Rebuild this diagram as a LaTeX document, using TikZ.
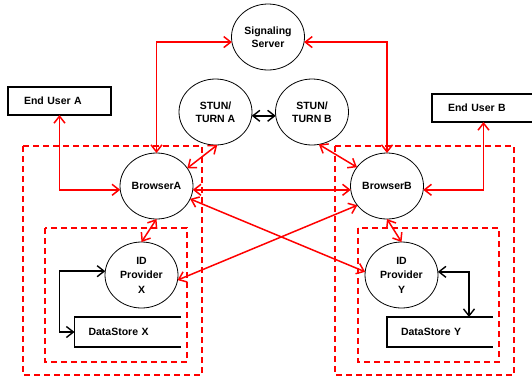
\documentclass[tikz,border=0pt]{standalone}
\usepackage{fontspec}
\setmainfont{Liberation Sans}
\usepackage{tikz}
\usetikzlibrary{shapes.geometric, arrows.meta, positioning}
\tikzstyle{link} = [red, line width=1.5pt, {Straight Barb[length=7pt,width=11pt]}-{Straight Barb[length=7pt,width=11pt]}]
\tikzstyle{blink} = [black, line width=1.4pt, {Straight Barb[length=7pt,width=11pt]}-{Straight Barb[length=7pt,width=11pt]}]
\tikzstyle{zone} = [red, line width=1.2pt, dash pattern=on 6pt off 4pt]

\begin{document}
\begin{tikzpicture}[x=1pt, y=-1pt,
			every node/.style={font=\fontsize{10.5}{13}\selectfont\bfseries, align=center},
			proc/.style={ellipse, draw, line width=0.8pt, minimum width=73pt, minimum height=66pt, inner sep=0pt, outer sep=0pt},
			userbox/.style={draw, line width=1.6pt, minimum height=28pt, inner xsep=16pt, text width=71pt, align=left, outer sep=0pt},
			dstore/.style={minimum height=30pt, inner xsep=14pt, text width=78pt, align=left, outer sep=0pt}
			]
			\useasboundingbox (0,0) rectangle (532,381);
			
			% Dashed zones
			\draw[zone] (23,146) rectangle (202,375);
			\draw[zone] (45,228) rectangle (187,362);
			\draw[zone] (335,146) rectangle (514,375);
			\draw[zone] (358,228) rectangle (499,362);
			
			% Servers and browsers
			\node[proc] (sig) at (268,37) {Signaling\\Server};
			\node[proc] (stA) at (215.5,112) {STUN/\\TURN A};
			\node[proc] (stB) at (312,112) {STUN/\\TURN B};
			\node[proc] (brA) at (156.5,186) {BrowserA};
			\node[proc] (brB) at (387,186) {BrowserB};
			\node[proc] (idX) at (141.5,275) {ID\\[1.5pt]Provider\\[1.5pt]X};
			\node[proc] (idY) at (401.5,275) {ID\\[1.5pt]Provider\\[1.5pt]Y};
			
			% Users and stores
			\node[userbox] (euA) at (59.5,101) {End User A};
			\node[userbox] (euB) at (483.5,108) {End User B};
			\node[dstore] (dsX) at (127.5,332) {DataStore X};
			\node[dstore] (dsY) at (440,332) {DataStore Y};
			\draw[line width=1.6pt] (dsX.north east) -- (dsX.north west) -- (dsX.south west) -- (dsX.south east);
			\draw[line width=1.6pt] (dsY.north east) -- (dsY.north west) -- (dsY.south west) -- (dsY.south east);
			
			% Red links
			\draw[link] (sig.188) -| (brA.north);
			\draw[link] (sig.-8) -| (brB.north);
			\draw[link] (euA.south) |- (brA.186);
			\draw[link] (euB.south) |- (brB.-6);
			\draw[link] (brA.-6) -- (brB.186);
			\draw[link] (stA.-87) -- (brA.30);
			\draw[link] (stB.-78) -- (brB.148);
			\draw[link] (brA.south) -- (idX.north);
			\draw[link] (brB.south) -- (idY.north);
			\draw[link] (brA.-21) -- (idY.175);
			\draw[link] (brB.213) -- (idX.-8);
			
			% Black links
			\draw[blink] (stA.-6) -- (stB.186);
			\draw[blink] (idX.174) -| ([xshift=-15pt]dsX.west) -- (dsX.west);
			\draw[blink] (idY.5) -| ([xshift=29pt]dsY.north);
			
		\end{tikzpicture}
\end{document}
